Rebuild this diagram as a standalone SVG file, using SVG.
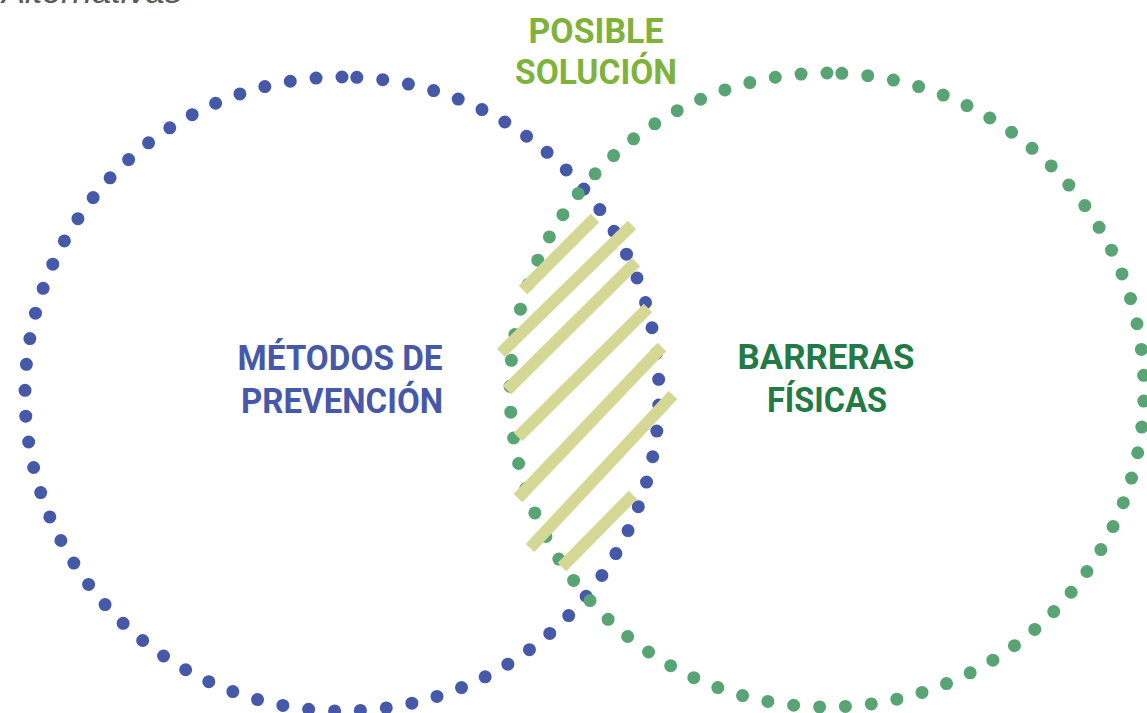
<svg xmlns="http://www.w3.org/2000/svg" width="1147" height="713" viewBox="0 0 1147 713">
  <style>
    .ring { fill: none; stroke-width: 13; stroke-linecap: round; stroke-dasharray: 0 26; }
    .blue { stroke: #4659A9; }
    .green { stroke: #58A474; }
    .hatch { stroke: #D5D895; stroke-width: 12; stroke-linecap: butt; }
    .lbl { font-family: "Liberation Sans Narrow", "Roboto", "Liberation Sans", sans-serif; font-weight: bold; font-size: 35px; text-anchor: middle; }
  </style>
  <rect width="1147" height="713" fill="#FFFFFF"/>
  <text x="2" y="3" font-family="'Liberation Sans', Arial, sans-serif" font-style="italic" font-size="33" fill="#5A5A5A" textLength="180" lengthAdjust="spacingAndGlyphs">Alternativas</text>
  <g id="node-metodos">
    <path class="ring blue" d="M342,77 A317,317 0 1,0 342,711 A317,317 0 1,0 342,77"/>
    <text class="lbl" x="340" y="370" fill="#4659A9" textLength="205" lengthAdjust="spacingAndGlyphs">MÉTODOS DE</text>
    <text class="lbl" x="342" y="413" fill="#4659A9" textLength="202" lengthAdjust="spacingAndGlyphs">PREVENCIÓN</text>
  </g>
  <g id="node-barreras">
    <path class="ring green" d="M827,73 A317,317 0 1,0 827,707 A317,317 0 1,0 827,73"/>
    <text class="lbl" x="826" y="369" fill="#237A45" textLength="177" lengthAdjust="spacingAndGlyphs">BARRERAS</text>
    <text class="lbl" x="827" y="412" fill="#237A45" textLength="120" lengthAdjust="spacingAndGlyphs">FÍSICAS</text>
  </g>
  <g id="node-solucion">
    <line class="hatch" x1="595" y1="218" x2="523" y2="290"/>
    <line class="hatch" x1="632" y1="225" x2="501" y2="353"/>
    <line class="hatch" x1="636" y1="262" x2="507" y2="390"/>
    <line class="hatch" x1="648" y1="308" x2="518" y2="437"/>
    <line class="hatch" x1="662" y1="347" x2="518" y2="498"/>
    <line class="hatch" x1="673" y1="395" x2="530" y2="548"/>
    <line class="hatch" x1="633" y1="495" x2="562" y2="567"/>
    <text class="lbl" x="596" y="43" fill="#7FB23A" textLength="135" lengthAdjust="spacingAndGlyphs">POSIBLE</text>
    <text class="lbl" x="596" y="84" fill="#7FB23A" textLength="162" lengthAdjust="spacingAndGlyphs">SOLUCIÓN</text>
  </g>
  <g id="connectors"/>
</svg>
